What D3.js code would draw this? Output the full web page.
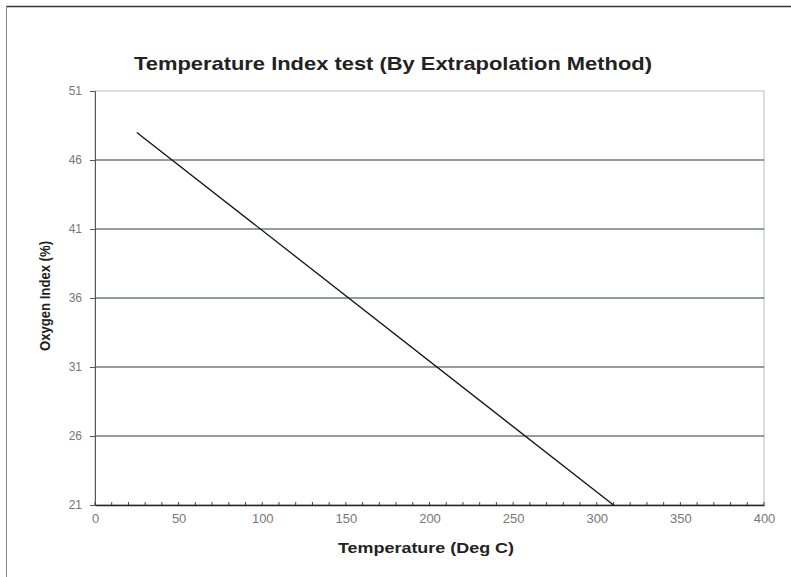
<!DOCTYPE html>
<html>
<head>
<meta charset="utf-8">
<script src="https://cdn.jsdelivr.net/npm/d3@7"></script>
<style>
  body { margin: 0; background: #fff; }
  text { font-family: "Liberation Sans", Arial, sans-serif; }
</style>
</head>
<body>
<script>
// Chart data
let lineTemps = [25, 310];
let lineOxygen = [48, 21];
let xTicks = [0, 50, 100, 150, 200, 250, 300, 350, 400];
let yTicks = [21, 26, 31, 36, 41, 46, 51];
let minorXTicks = d3.range(0, 401, 10);

let svgWidth = 791;
let svgHeight = 577;
let margin = { top: 91, right: 27, bottom: 72, left: 95 };
let chartWidth = svgWidth - margin.left - margin.right;
let chartHeight = svgHeight - margin.top - margin.bottom;

let svg = d3.select("body")
            .append("svg")
            .attr("width", svgWidth)
            .attr("height", svgHeight);

// outer frame
svg.append("line").attr("x1", 6).attr("x2", 791).attr("y1", 6.5).attr("y2", 6.5)
   .attr("stroke", "#333").attr("stroke-width", 1.5);
svg.append("line").attr("x1", 6.5).attr("x2", 6.5).attr("y1", 6).attr("y2", 577)
   .attr("stroke", "#888").attr("stroke-width", 1);

let chartGroup = svg.append("g")
                    .attr("transform", `translate(${margin.left}, ${margin.top})`);

let xScale = d3.scaleLinear().domain([0, 400]).range([0, chartWidth]);
let yScale = d3.scaleLinear().domain([21, 51]).range([chartHeight, 0]);

// plot border (light)
chartGroup.append("rect")
          .attr("x", 0).attr("y", 0)
          .attr("width", chartWidth).attr("height", chartHeight)
          .attr("fill", "none").attr("stroke", "#bbb").attr("stroke-width", 1);

// horizontal gridlines
chartGroup.selectAll(".grid")
          .data(yTicks.filter(d => d > 21 && d < 51))
          .enter()
          .append("line")
          .attr("class", "grid")
          .attr("x1", 0).attr("x2", chartWidth)
          .attr("y1", d => yScale(d)).attr("y2", d => yScale(d))
          .attr("stroke", "#2a3a3a").attr("stroke-width", 1.2);

// y axis
let yAxis = d3.axisLeft(yScale).tickValues(yTicks).tickSize(5).tickPadding(8);
let yG = chartGroup.append("g").call(yAxis);
yG.select(".domain").attr("stroke", "#555");
yG.selectAll(".tick line").attr("stroke", "#555");
yG.selectAll("text").attr("fill", "#777").style("font-size", "12px");

// x axis minor ticks (pointing up)
chartGroup.selectAll(".minor")
          .data(minorXTicks)
          .enter()
          .append("line")
          .attr("x1", d => xScale(d)).attr("x2", d => xScale(d))
          .attr("y1", chartHeight).attr("y2", chartHeight - 3)
          .attr("stroke", "#444");

// x axis
let xAxis = d3.axisBottom(xScale).tickValues(xTicks).tickSize(0).tickPadding(9);
let xG = chartGroup.append("g")
                   .attr("transform", `translate(0, ${chartHeight})`)
                   .call(xAxis);
xG.select(".domain").attr("stroke", "#223").attr("stroke-width", 1.5);
xG.selectAll("text").attr("fill", "#777").style("font-size", "13px");

// data line
let line = d3.line().x(d => xScale(d[0])).y(d => yScale(d[1]));
chartGroup.append("path")
          .datum(lineTemps.map((t, i) => [t, lineOxygen[i]]))
          .attr("d", line)
          .attr("fill", "none")
          .attr("stroke", "#111")
          .attr("stroke-width", 1.3);

// titles
svg.append("text")
   .attr("x", 393).attr("y", 70)
   .attr("text-anchor", "middle")
   .attr("textLength", 518)
   .attr("lengthAdjust", "spacingAndGlyphs")
   .style("font-size", "19px").style("font-weight", "bold")
   .attr("fill", "#222")
   .text("Temperature Index test (By Extrapolation Method)");

svg.append("text")
   .attr("x", 426).attr("y", 553)
   .attr("text-anchor", "middle")
   .attr("textLength", 176)
   .attr("lengthAdjust", "spacingAndGlyphs")
   .style("font-size", "15px").style("font-weight", "bold")
   .attr("fill", "#222")
   .text("Temperature (Deg C)");

svg.append("text")
   .attr("transform", "translate(50, 296) rotate(-90)")
   .attr("text-anchor", "middle")
   .attr("textLength", 110)
   .attr("lengthAdjust", "spacingAndGlyphs")
   .style("font-size", "14px").style("font-weight", "bold")
   .attr("fill", "#222")
   .text("Oxygen Index (%)");
</script>
</body>
</html>
